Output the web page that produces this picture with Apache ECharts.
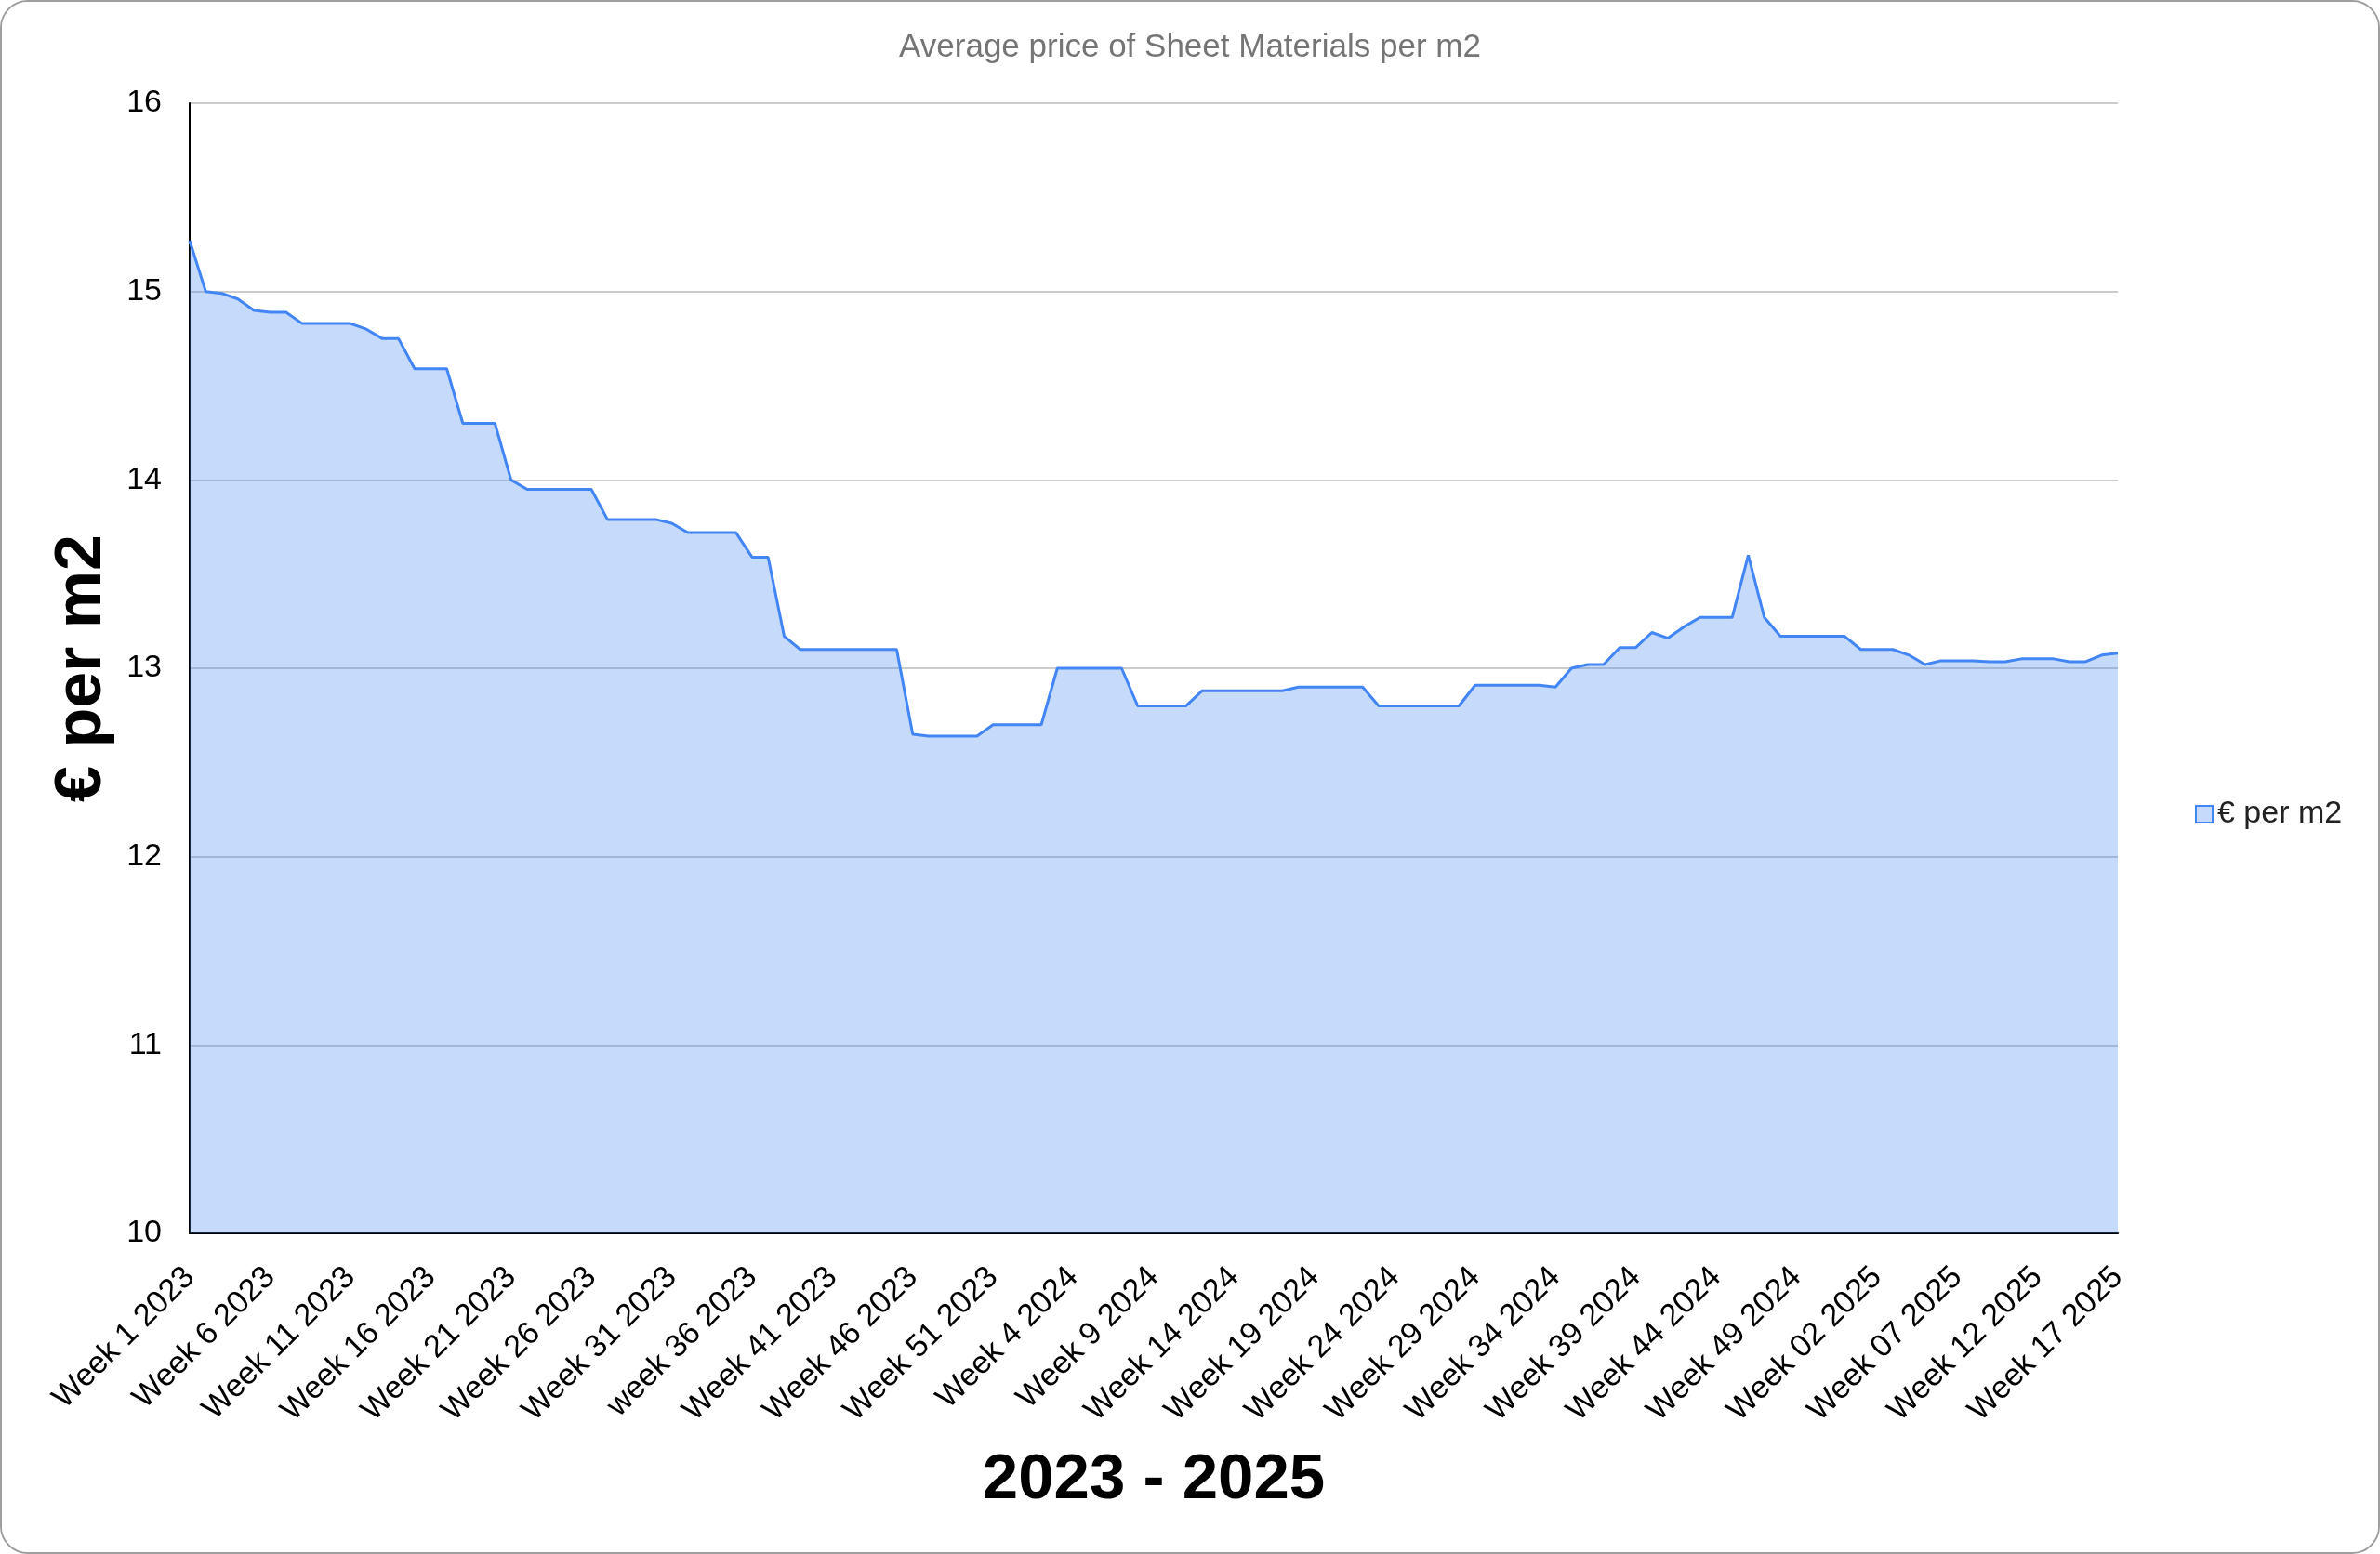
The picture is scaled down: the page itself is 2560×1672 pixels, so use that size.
<!DOCTYPE html>
<html>
<head>
<meta charset="utf-8">
<script src="https://cdn.jsdelivr.net/npm/echarts@6/dist/echarts.min.js"></script>
<style>
  html, body { margin: 0; padding: 0; background: #fff; }
  #wrap { width: 2560px; height: 1672px; box-sizing: border-box; border: 2px solid #9e9e9e; border-radius: 30px; overflow: hidden; background: #fff; }
  #chart { width: 2556px; height: 1668px; }
</style>
</head>
<body>
<div id="wrap"><div id="chart"></div></div>
<script>
const chartTitle = 'Average price of Sheet Materials per m2';
const seriesName = '€ per m2';
const xAxisTitle = '2023 - 2025';
const yAxisTitle = '€ per m2';

// Week labels: 52 weeks of 2023, 52 weeks of 2024, 17 weeks of 2025
const categories = [];
for (let w = 1; w <= 52; w++) categories.push((w === 36 ? 'week ' : 'Week ') + w + ' 2023');
for (let w = 1; w <= 52; w++) categories.push('Week ' + w + ' 2024');
for (let w = 1; w <= 17; w++) categories.push('Week ' + String(w).padStart(2, '0') + ' 2025');

const prices = [
  15.27, 15.00, 14.99, 14.96, 14.90, 14.89, 14.89, 14.83, 14.83, 14.83,
  14.83, 14.80, 14.75, 14.75, 14.59, 14.59, 14.59, 14.30, 14.30, 14.30,
  14.00, 13.95, 13.95, 13.95, 13.95, 13.95, 13.79, 13.79, 13.79, 13.79,
  13.77, 13.72, 13.72, 13.72, 13.72, 13.59, 13.59, 13.17, 13.10, 13.10,
  13.10, 13.10, 13.10, 13.10, 13.10, 12.65, 12.64, 12.64, 12.64, 12.64,
  12.70, 12.70, 12.70, 12.70, 13.00, 13.00, 13.00, 13.00, 13.00, 12.80,
  12.80, 12.80, 12.80, 12.88, 12.88, 12.88, 12.88, 12.88, 12.88, 12.90,
  12.90, 12.90, 12.90, 12.90, 12.80, 12.80, 12.80, 12.80, 12.80, 12.80,
  12.91, 12.91, 12.91, 12.91, 12.91, 12.90, 13.00, 13.02, 13.02, 13.11,
  13.11, 13.19, 13.16, 13.22, 13.27, 13.27, 13.27, 13.60, 13.27, 13.17,
  13.17, 13.17, 13.17, 13.17, 13.10, 13.10, 13.10, 13.07, 13.02, 13.04,
  13.04, 13.04, 13.035, 13.035, 13.05, 13.05, 13.05, 13.035, 13.035, 13.07,
  13.08
];

const yTicks = { min: 10, max: 16, interval: 1 };

const FONT = '"Liberation Sans", Arial, sans-serif';
const chart = echarts.init(document.getElementById('chart'), null, { renderer: 'canvas' });
chart.setOption({
  animation: false,
  backgroundColor: '#fff',
  title: {
    text: chartTitle,
    left: 'center',
    top: 27,
    textStyle: { fontFamily: FONT, fontSize: 35, fontWeight: 'normal', color: '#757575' }
  },
  legend: {
    data: [seriesName],
    left: 2354,
    top: 852,
    icon: 'rect',
    itemWidth: 18,
    itemHeight: 18,
    itemStyle: { color: '#c6dafc', borderColor: '#4285f4', borderWidth: 2 },
    textStyle: { fontFamily: FONT, fontSize: 34, color: '#222' }
  },
  grid: { left: 202, right: 280, top: 109, bottom: 343, containLabel: false },
  xAxis: {
    type: 'category',
    data: categories,
    boundaryGap: false,
    name: xAxisTitle,
    nameLocation: 'middle',
    nameGap: 231,
    nameTextStyle: { fontFamily: FONT, fontSize: 69, fontWeight: 'bold', color: '#000' },
    axisLine: { show: true, lineStyle: { color: '#000', width: 2 } },
    axisTick: { show: false },
    axisLabel: {
      interval: 4,
      rotate: 45,
      margin: 42,
      fontFamily: FONT,
      fontSize: 34,
      color: '#000'
    },
    splitLine: { show: false }
  },
  yAxis: {
    type: 'value',
    min: yTicks.min,
    max: yTicks.max,
    interval: yTicks.interval,
    name: yAxisTitle,
    nameLocation: 'middle',
    nameRotate: 90,
    nameGap: 80,
    nameTextStyle: { fontFamily: FONT, fontSize: 70, fontWeight: 'bold', color: '#000' },
    axisLine: { show: true, lineStyle: { color: '#000', width: 2 } },
    axisTick: { show: false },
    axisLabel: { margin: 30, fontFamily: FONT, fontSize: 34, color: '#000' },
    splitLine: { show: true, lineStyle: { color: '#cccccc', width: 2 } }
  },
  series: [{
    name: seriesName,
    type: 'line',
    data: prices,
    showSymbol: false,
    symbol: 'none',
    lineStyle: { color: '#4285f4', width: 3 },
    itemStyle: { color: '#4285f4' },
    areaStyle: { color: '#4285f4', opacity: 0.3 }
  }]
});
</script>
</body>
</html>
